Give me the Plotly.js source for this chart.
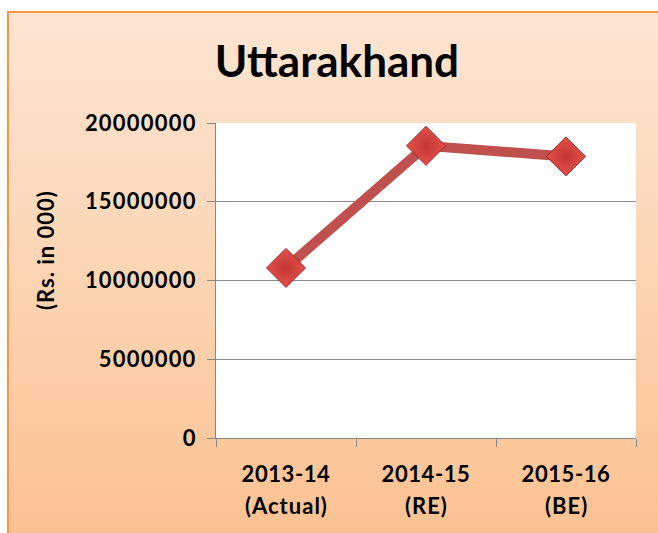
<!DOCTYPE html>
<html>
<head>
<meta charset="utf-8">
<script src="https://cdn.plot.ly/plotly-3.0.1.min.js"></script>
<style>
  html, body { margin: 0; padding: 0; background: #ffffff; width: 658px; height: 533px; overflow: hidden; }
  #bg { position: absolute; left: 7px; top: 11px; width: 660px; height: 540px;
        border-left: 2px solid #f79646; border-top: 2px solid #f79646;
        background: linear-gradient(to bottom, #fde5d2 0%, #fcd6b6 45%, #fbc08e 100%); }
  #chart { position: absolute; left: 0; top: 0; width: 658px; height: 533px; }
  #chart .ytick text { letter-spacing: 1.2px; }
  #chart .xtick text { letter-spacing: 0.6px; }
  #chart .annotation-text { letter-spacing: 1px; }
</style>
</head>
<body>
<div id="bg"></div>
<div id="chart"></div>
<script>
const categories = ["2013-14", "2014-15", "2015-16"];
const categorySub = ["(Actual)", "(RE)", "(BE)"];
const values = [10800000, 18550000, 17880000];
const yTicks = [0, 5000000, 10000000, 15000000, 20000000];
const chartTitle = "Uttarakhand";
const yTitle = "(Rs. in 000)";

const fontBold = "Lato, 'Open Sans', sans-serif";
const plotL = 216, plotR = 636, plotT = 123, plotB = 438;

const trace = {
  x: categories,
  y: values,
  type: "scatter",
  mode: "lines+markers",
  line: { color: "#c0504d", width: 10 },
  marker: { symbol: "diamond", size: 30, color: "#e4504b",
            gradient: { type: "radial", color: "#c23733" },
            line: { color: "#9a2a27", width: 1 } },
  hoverinfo: "none"
};

const annotations = categorySub.map((t, i) => ({
  x: categories[i], xref: "x", y: -0.213, yref: "paper",
  text: "<b>" + t + "</b>", showarrow: false,
  font: { family: fontBold, size: 22, color: "#000000" },
  xanchor: "center", yanchor: "middle"
}));
annotations.push({
  x: (45 - plotL) / (plotR - plotL), xref: "paper",
  y: (plotB - 250) / (plotB - plotT), yref: "paper",
  text: "<b>" + yTitle + "</b>", showarrow: false, textangle: -90,
  font: { family: fontBold, size: 22, color: "#000000" }, xanchor: "center", yanchor: "middle"
});

const layout = {
  width: 658, height: 533,
  margin: { l: plotL, r: 658 - plotR, t: plotT, b: 533 - plotB, pad: 0 },
  paper_bgcolor: "rgba(0,0,0,0)",
  plot_bgcolor: "#ffffff",
  showlegend: false,
  title: { text: "<b>" + chartTitle + "</b>", font: { family: fontBold, size: 44, color: "#000000" },
           x: 0.512, xref: "container", xanchor: "center", y: 1 - 62 / 533, yref: "container", yanchor: "middle" },
  xaxis: {
    type: "category", range: [-0.5, 2.5],
    tickvals: categories, ticktext: categories.map(c => "<b>" + c + "</b>"),
    tickson: "boundaries", ticks: "outside", ticklen: 8, tickcolor: "#868686", tickwidth: 1,
    showline: true, linecolor: "#868686", linewidth: 1, showgrid: false, zeroline: false,
    tickfont: { family: fontBold, size: 22, color: "#000000" },
    ticklabelstandoff: 17
  },
  yaxis: {
    range: [0, 20000000], tickvals: yTicks, ticktext: yTicks.map(v => "<b>" + v + "</b>"),
    ticks: "outside", ticklen: 8, tickcolor: "#868686", tickwidth: 1,
    showline: true, linecolor: "#868686", linewidth: 1,
    showgrid: true, gridcolor: "#8c8c8c", gridwidth: 1, zeroline: false,
    tickfont: { family: fontBold, size: 22, color: "#000000" },
    ticklabelstandoff: 6
  },
  annotations: annotations
};

Plotly.newPlot("chart", [trace], layout, { staticPlot: true, displayModeBar: false });
</script>
</body>
</html>
